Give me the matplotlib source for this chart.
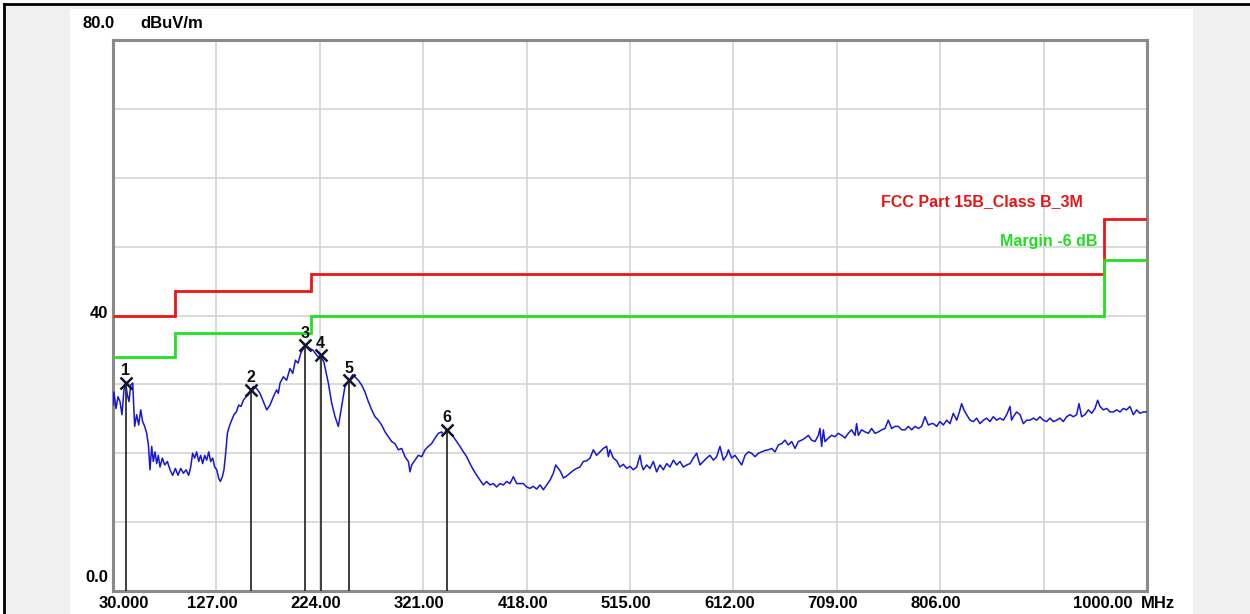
import matplotlib
matplotlib.use("Agg")
import matplotlib.pyplot as plt
import matplotlib.transforms as mtrans
from matplotlib.patches import Rectangle
from matplotlib.lines import Line2D

# ---------------- data ----------------
freq_mhz = [
    30.0, 30.9, 32.8, 34.7, 36.6, 38.4, 40.3, 41.9, 43.4, 45.0, 46.6, 48.5,
    50.3, 52.2, 54.1, 56.0, 57.8, 59.7, 61.6, 63.2, 64.7, 66.3, 67.8, 69.4,
    71.0, 72.5, 74.1, 76.3, 78.5, 81.0, 83.5, 86.0, 88.5, 91.0, 93.5, 96.0,
    98.5, 101.0, 102.9, 104.7, 106.6, 108.5, 110.4, 112.2, 114.1, 116.0, 117.9, 119.8,
    121.6, 123.5, 125.4, 127.3, 129.1, 130.7, 132.6, 134.1, 135.7, 137.3, 139.1, 141.3,
    143.5, 145.7, 147.9, 150.1, 152.3, 154.8, 157.0, 159.2, 161.7, 164.8, 167.9, 171.0,
    174.2, 177.3, 180.4, 183.5, 185.1, 186.7, 189.8, 192.9, 196.0, 198.6, 201.1, 203.6,
    206.1, 208.6, 210.1, 212.3, 214.8, 217.3, 219.8, 222.3, 224.8, 227.9, 232.0, 235.1,
    238.3, 241.4, 244.5, 247.6, 251.7, 254.8, 257.0, 260.1, 263.3, 266.4, 269.5, 272.7,
    275.8, 278.9, 282.0, 285.2, 288.3, 291.4, 294.5, 297.7, 300.8, 303.9, 307.1, 308.6,
    310.2, 313.3, 316.4, 319.6, 322.7, 325.8, 328.9, 332.1, 335.2, 338.3, 339.9, 343.0,
    346.1, 349.3, 352.4, 355.5, 358.7, 361.8, 364.9, 368.0, 371.2, 374.3, 377.4, 380.5,
    383.7, 386.8, 389.9, 393.0, 396.2, 399.3, 402.4, 405.6, 408.7, 411.8, 414.9, 418.1,
    421.2, 424.3, 427.4, 430.6, 433.7, 436.8, 440.0, 443.1, 445.3, 447.8, 450.0, 452.5,
    455.6, 458.7, 461.8, 465.0, 468.1, 471.2, 474.3, 477.5, 480.6, 483.7, 486.9, 490.0,
    493.1, 494.7, 496.2, 499.4, 502.5, 505.6, 508.7, 511.9, 515.0, 518.1, 521.3, 524.4,
    525.9, 527.5, 530.6, 533.8, 536.9, 540.0, 543.1, 546.3, 549.4, 552.5, 555.7, 558.8,
    561.9, 565.0, 568.2, 571.3, 574.4, 577.5, 580.7, 583.8, 586.9, 590.0, 593.2, 596.3,
    599.4, 602.6, 605.7, 607.3, 610.4, 613.5, 616.6, 619.8, 622.9, 626.0, 629.1, 632.3,
    635.4, 638.5, 641.6, 644.8, 647.9, 651.0, 654.2, 657.3, 660.4, 663.5, 666.7, 669.8,
    672.9, 676.0, 679.2, 682.3, 685.4, 688.6, 691.7, 693.2, 694.8, 696.4, 697.9, 701.1,
    704.2, 707.3, 710.4, 713.6, 716.7, 719.8, 722.9, 726.1, 727.6, 729.2, 732.3, 735.5,
    738.6, 741.7, 744.8, 748.0, 751.1, 754.2, 757.3, 760.5, 763.6, 766.7, 769.9, 773.0,
    776.1, 779.2, 782.4, 785.5, 788.6, 791.7, 794.9, 798.0, 799.6, 802.7, 805.8, 808.9,
    812.1, 815.2, 818.3, 821.5, 824.0, 826.1, 828.3, 830.8, 834.0, 837.1, 840.2, 843.3,
    846.5, 849.6, 852.7, 855.8, 859.0, 862.1, 865.2, 868.4, 871.5, 873.0, 874.6, 877.7,
    880.9, 884.0, 887.1, 890.2, 893.4, 896.5, 899.6, 902.8, 905.9, 909.0, 912.1, 915.3,
    918.4, 921.5, 924.6, 927.8, 930.9, 934.0, 936.2, 938.7, 941.8, 945.0, 948.1, 951.2,
    953.7, 955.9, 959.0, 962.2, 965.3, 968.4, 971.5, 974.7, 977.8, 980.9, 984.0, 987.2,
    990.3, 993.4, 996.6, 1000.0,
]
level_dbuv = [
    27.0, 28.9, 26.5, 28.2, 27.5, 25.6, 29.2, 30.2, 28.5, 27.5, 29.9, 30.2,
    23.9, 25.6, 24.1, 26.3, 24.6, 23.9, 22.9, 21.2, 17.6, 21.0, 18.8, 20.2,
    18.5, 19.7, 18.0, 19.3, 18.3, 18.8, 17.6, 16.8, 17.8, 16.8, 17.8, 17.1,
    17.6, 16.8, 18.0, 20.0, 19.3, 20.2, 18.8, 19.7, 18.5, 19.7, 19.0, 20.2,
    18.8, 19.3, 18.0, 17.6, 16.4, 15.9, 16.6, 17.6, 20.0, 22.9, 23.9, 24.8,
    25.6, 26.0, 27.0, 26.8, 27.7, 28.2, 28.5, 29.2, 29.7, 29.4, 28.7, 27.5,
    26.3, 27.0, 28.2, 29.2, 28.7, 30.2, 31.1, 30.6, 32.3, 31.6, 33.5, 33.1,
    34.5, 35.2, 35.7, 35.5, 35.2, 35.0, 34.5, 34.0, 34.2, 33.2, 30.2, 27.3,
    25.3, 23.9, 26.8, 29.7, 30.6, 31.4, 31.1, 30.6, 29.9, 28.9, 27.5, 26.3,
    25.3, 24.8, 24.1, 23.1, 22.4, 21.7, 21.4, 20.5, 20.7, 19.5, 18.8, 17.3,
    18.3, 19.0, 19.7, 19.5, 20.5, 21.0, 21.4, 22.2, 22.9, 23.1, 22.6, 23.4,
    22.9, 22.4, 21.7, 21.0, 20.2, 19.5, 18.5, 17.6, 16.8, 16.1, 15.4, 15.9,
    15.4, 15.6, 15.1, 15.6, 15.4, 15.9, 15.6, 16.6, 15.6, 15.6, 15.6, 15.1,
    14.9, 15.2, 14.8, 15.4, 14.7, 15.4, 16.1, 17.1, 18.3, 17.8, 17.3, 16.4,
    16.7, 17.1, 17.5, 17.8, 18.0, 18.8, 18.9, 19.3, 20.5, 19.7, 20.2, 20.7,
    21.0, 19.5, 20.5, 19.3, 18.9, 18.0, 18.4, 17.8, 18.1, 17.6, 18.0, 19.7,
    18.3, 17.6, 18.3, 17.8, 18.8, 17.3, 18.3, 17.6, 18.5, 18.0, 19.0, 18.3,
    18.8, 18.0, 18.3, 18.5, 19.3, 20.0, 18.3, 18.8, 19.3, 19.7, 19.0, 19.5,
    21.0, 19.0, 19.7, 20.5, 19.3, 19.7, 19.0, 18.3, 19.7, 20.2, 20.0, 19.5,
    20.0, 20.2, 20.4, 20.5, 20.7, 20.2, 21.2, 21.4, 21.9, 21.2, 21.7, 20.7,
    21.7, 21.9, 22.2, 22.6, 21.9, 21.7, 22.6, 23.6, 21.0, 23.4, 21.7, 22.2,
    22.6, 22.4, 22.9, 22.6, 22.2, 22.9, 23.4, 22.6, 24.3, 22.6, 23.4, 23.1,
    22.9, 23.6, 22.9, 23.1, 23.4, 23.6, 24.8, 23.6, 23.9, 23.9, 23.4, 23.4,
    23.9, 23.4, 23.9, 23.6, 23.9, 25.3, 24.1, 24.3, 24.3, 23.9, 24.6, 24.1,
    24.8, 24.3, 25.8, 24.8, 26.0, 27.2, 26.3, 25.6, 24.8, 24.6, 25.1, 24.3,
    24.8, 25.1, 24.6, 25.3, 24.8, 25.1, 24.8, 25.6, 26.8, 24.8, 25.3, 26.0,
    25.6, 24.3, 24.8, 24.8, 25.1, 24.8, 25.3, 24.8, 24.6, 25.1, 24.6, 24.8,
    25.1, 24.6, 25.3, 25.6, 25.3, 25.6, 27.2, 25.3, 25.6, 26.3, 25.8, 26.5,
    27.7, 26.8, 26.3, 26.5, 26.0, 26.0, 26.3, 26.0, 26.5, 26.3, 26.8, 25.6,
    26.3, 25.8, 26.0, 26.0,
]

limit_edges = [30, 88, 216, 960, 1000]
limit_levels = [40.0, 43.5, 46.0, 54.0]
margin_db = 6.0
margin_levels = [v - margin_db for v in limit_levels]

marker_ids = ["1", "2", "3", "4", "5", "6"]
marker_freq = [41.9, 159.2, 210.1, 224.8, 251.7, 343.0]
marker_level = [30.2, 29.2, 35.7, 34.2, 30.6, 23.4]

x_ticks = [30, 127, 224, 321, 418, 515, 612, 709, 806, 903, 1000]
x_tick_labels = ["30.000", "127.00", "224.00", "321.00", "418.00", "515.00",
                 "612.00", "709.00", "806.00", "", "1000.00"]
y_ticks = [0, 10, 20, 30, 40, 50, 60, 70, 80]
y_tick_labels = ["0.0", "", "", "", "40", "", "", "", ""]
y_top_label = "80.0"
y_unit = "dBuV/m"
x_unit = "MHz"
limit_name = "FCC Part 15B_Class B_3M"
margin_name = "Margin -6 dB"

# ---------------- figure ----------------
FONT = ["Liberation Sans", "DejaVu Sans"]
plt.rcParams["font.family"] = FONT
plt.rcParams["font.weight"] = "bold"

W, H = 1250, 614
fig = plt.figure(figsize=(W / 100, H / 100), dpi=100, facecolor="white")


def fx(px):
    return px / W


def fy(py):
    return 1 - py / H


fig.patches.append(Rectangle((fx(5), 0), 1 - fx(5), fy(5), transform=fig.transFigure,
                             facecolor="#f0f0f0", edgecolor="none", zorder=-3))
fig.patches.append(Rectangle((fx(70), 0), fx(1193) - fx(70), fy(9), transform=fig.transFigure,
                             facecolor="white", edgecolor="none", zorder=-2))
fig.add_artist(Line2D([fx(4), fx(4)], [0, fy(4)], color="black", lw=2.0,
                      transform=fig.transFigure, zorder=-1))
fig.add_artist(Line2D([fx(4), 1], [fy(4), fy(4)], color="black", lw=2.0,
                      transform=fig.transFigure, zorder=-1))

ax = fig.add_axes([fx(113), fy(591), fx(1147) - fx(113), fy(40) - fy(591)])
ax.set_zorder(2)
ax.set_facecolor("white")
ax.set_xlim(30, 1000)
ax.set_ylim(0, 80)
ax.set_xticks(x_ticks)
ax.set_xticklabels(x_tick_labels)
ax.set_yticks(y_ticks)
ax.set_yticklabels(y_tick_labels)
ax.grid(True, color="#d4d4d4", lw=1.2)
ax.set_axisbelow(True)
ax.tick_params(length=0, labelsize=12, pad=3.5)
for lab in ax.get_xticklabels() + ax.get_yticklabels():
    lab.set_fontweight("bold")
for sp in ax.spines.values():
    sp.set_color("#8a8a8a")
    sp.set_linewidth(2.2)

dpi_t = fig.dpi_scale_trans
xl = ax.get_xticklabels()
for i, lab in enumerate(xl):
    if i == 0:
        dx = 11
    elif i == len(xl) - 1:
        dx = -14
        lab.set_ha("right")
    else:
        dx = -4
    lab.set_transform(lab.get_transform() + mtrans.ScaledTranslation(dx / 100, 0, dpi_t))
yl = ax.get_yticklabels()
yl[0].set_transform(yl[0].get_transform() + mtrans.ScaledTranslation(0, 15 / 100, dpi_t))
yl[4].set_transform(yl[4].get_transform() + mtrans.ScaledTranslation(0, 3 / 100, dpi_t))

fig.text(fx(115), fy(24), y_top_label, ha="right", va="center", fontsize=12, weight="bold")
fig.text(fx(140), fy(24), y_unit, ha="left", va="center", fontsize=12, weight="bold")
fig.text(fx(1141), fy(604), x_unit, ha="left", va="center", fontsize=12, weight="bold")

# trace
ax.plot(freq_mhz, level_dbuv, color="#1616d8", lw=1.1, zorder=3)

# limit & margin lines
ax.stairs(limit_levels, limit_edges, baseline=None, color="#ee1515", lw=2.0, zorder=4)
ax.stairs(margin_levels, limit_edges, baseline=None, color="#22e022", lw=2.0, zorder=4)
ax.text(940, 56.6, limit_name, color="#e81414", ha="right", va="center",
        fontsize=11.5, weight="bold")
ax.text(954, 50.7, margin_name, color="#22dd22", ha="right", va="center",
        fontsize=11.5, weight="bold")

# markers
ax.vlines(marker_freq, 0, marker_level, color="#303030", lw=1.3, zorder=5)
ax.plot(marker_freq, marker_level, "x", color="#141428", ms=8, mew=1.8, zorder=6)
for mid, f, l in zip(marker_ids, marker_freq, marker_level):
    ax.annotate(mid, (f, l), xytext=(0, 12), textcoords="offset pixels",
                ha="center", va="center", fontsize=11.5, weight="bold",
                color="#101010", zorder=7)

fig.savefig("out.png", dpi=100, facecolor=fig.get_facecolor())
